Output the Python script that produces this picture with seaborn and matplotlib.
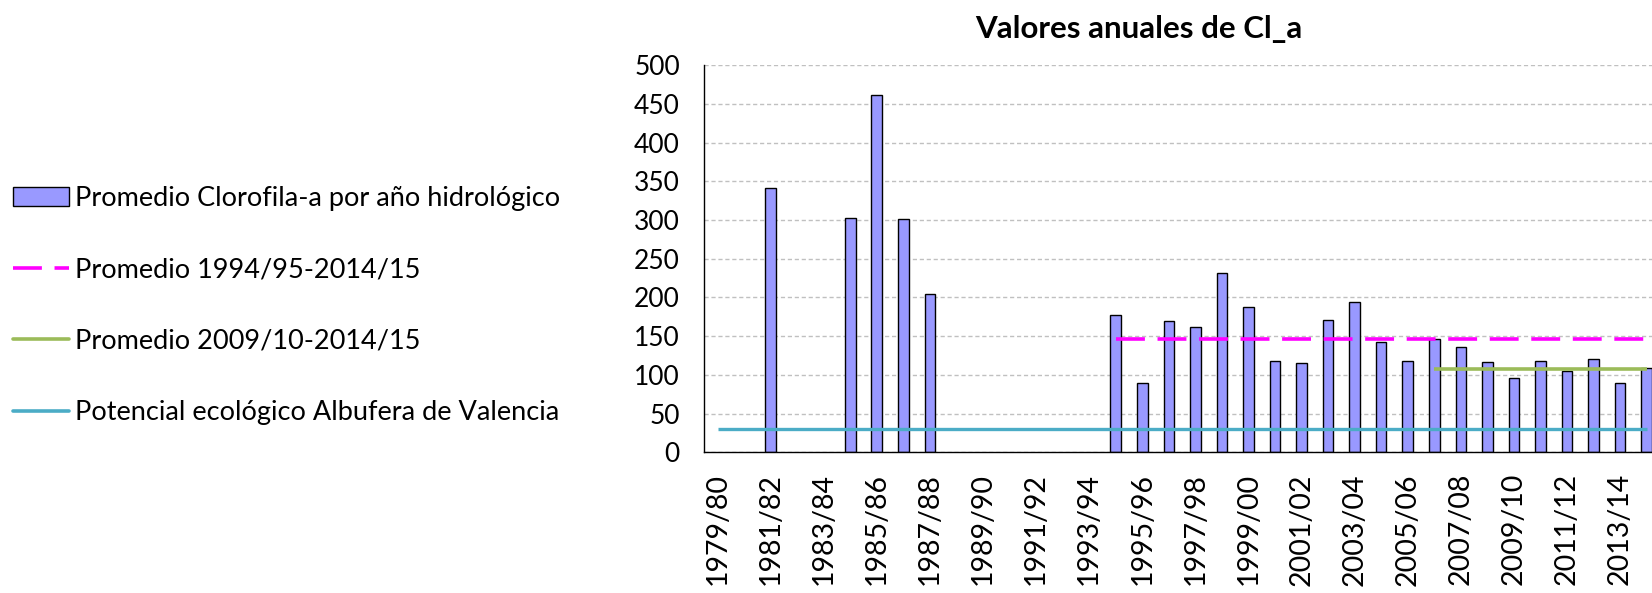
import numpy as np
import pandas as pd
import matplotlib.pyplot as plt
from matplotlib.patches import Patch
from matplotlib.lines import Line2D
import seaborn as sns

# Años hidrológicos (eje x)
anios = ['1979/80', '1980/81', '1981/82', '1982/83', '1983/84', '1984/85', '1985/86',
         '1986/87', '1987/88', '1988/89', '1989/90', '1990/91', '1991/92', '1992/93',
         '1993/94', '1994/95', '1995/96', '1996/97', '1997/98', '1998/99', '1999/00',
         '2000/01', '2001/02', '2002/03', '2003/04', '2004/05', '2005/06', '2006/07',
         '2007/08', '2008/09', '2009/10', '2010/11', '2011/12', '2012/13', '2013/14',
         '2014/15']

# Promedio de clorofila-a por año (NaN = sin dato)
clorofila = [np.nan, np.nan, 341, np.nan, np.nan, 303, 461,
             301, 205, np.nan, np.nan, np.nan, np.nan, np.nan,
             np.nan, 177, 90, 169, 162, 232, 188,
             118, 115, 171, 194, 143, 118, 147,
             136, 117, 96, 118, 105, 120, 90,
             109]

# Líneas de referencia
promedio_9415 = 147
promedio_0915 = 107
potencial_ecologico = 30
inicio_9415 = '1994/95'
inicio_0915 = '2006/07'
inicio_potencial = '1979/80'

etiquetas_leyenda = ['Promedio Clorofila-a por año hidrológico',
                     'Promedio 1994/95-2014/15',
                     'Promedio 2009/10-2014/15',
                     'Potencial ecológico Albufera de Valencia']

df = pd.DataFrame({'anio': anios, 'clorofila': clorofila})

sns.set_theme(style='white')
plt.rcParams['font.family'] = ['Lato', 'DejaVu Sans']
plt.rcParams['text.color'] = 'black'
plt.rcParams['xtick.color'] = 'black'
plt.rcParams['ytick.color'] = 'black'

fig = plt.figure(figsize=(16.52, 5.93), dpi=100)
ax = fig.add_axes([0.4263, 0.2373, 0.5785, 0.6526])

sns.barplot(data=df, x='anio', y='clorofila', order=anios, color='#9999FF',
            edgecolor='black', linewidth=1, width=0.4, saturation=1,
            errorbar=None, ax=ax)

# series de las líneas horizontales sobre las mismas categorías
pos = np.arange(len(anios))
def serie(valor, desde):
    y = np.full(len(anios), np.nan)
    y[anios.index(desde):] = valor
    return y

ax.plot(pos, serie(potencial_ecologico, inicio_potencial), color='#4BACC6', lw=2.4,
        solid_capstyle='butt')
ax.plot(pos, serie(promedio_9415, inicio_9415), color='#FF00FF', lw=2.6,
        dashes=(8, 3.5))
ax.plot(pos, serie(promedio_0915, inicio_0915), color='#9BBB59', lw=2.6,
        solid_capstyle='butt')

ax.set_ylim(0, 500)
ax.set_xlim(-0.5, len(anios) - 0.5)
ax.set_yticks(range(0, 501, 50))
ax.yaxis.grid(True, color='#c0c0c0', linestyle=(0, (3, 2)), linewidth=1)
ax.set_axisbelow(True)

# etiquetas cada dos años, marcas entre categorías
ax.set_xticks(pos[::2])
ax.set_xticklabels(anios[::2], rotation=90, fontsize=20.5)
ax.set_xticks(np.arange(-0.5, len(anios), 1), minor=True)
ax.tick_params(axis='x', which='major', length=0, pad=15, labelcolor='black')
ax.tick_params(axis='x', which='minor', length=11, width=1, color='black', direction='out')
ax.tick_params(axis='y', length=7, width=1, color='black', direction='out', pad=10.5,
               labelsize=19, labelcolor='black')
ax.set_xlabel('')
ax.set_ylabel('')

for lado in ['top', 'right']:
    ax.spines[lado].set_visible(False)
for lado in ['left', 'bottom']:
    ax.spines[lado].set_color('black')
    ax.spines[lado].set_linewidth(1)

fig.text(1139 / 1652, 1 - 29 / 593, 'Valores anuales de Cl_a', ha='center', va='center',
         fontsize=22.5, fontweight='bold', color='black')

manejadores = [Patch(facecolor='#9999FF', edgecolor='black', linewidth=1),
               Line2D([], [], color='#FF00FF', lw=2.6, dashes=(8, 3.5)),
               Line2D([], [], color='#9BBB59', lw=2.6),
               Line2D([], [], color='#4BACC6', lw=2.6)]
fig.legend(manejadores, etiquetas_leyenda, loc='center left',
           bbox_to_anchor=(13 / 1652, 0.485), frameon=False, fontsize=19.5,
           handlelength=2.05, handletextpad=0.25, labelspacing=1.72,
           borderpad=0, borderaxespad=0, labelcolor='black')

plt.savefig('out.png', dpi=100)
